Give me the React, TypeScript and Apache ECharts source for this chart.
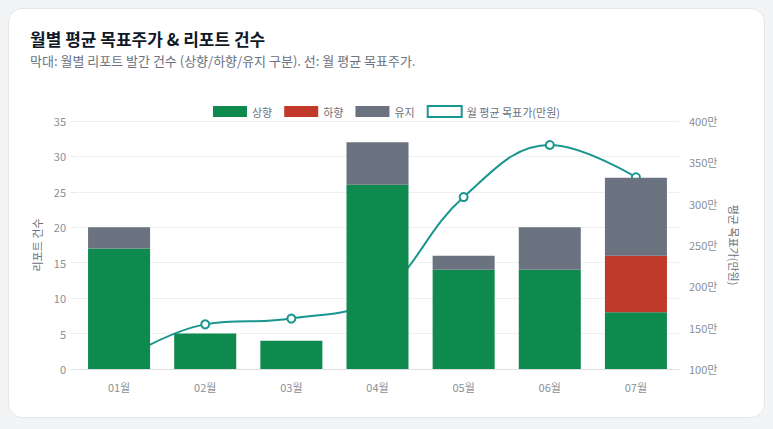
import React, { useEffect, useRef } from "react";
import * as echarts from "echarts";

const months = ["01월", "02월", "03월", "04월", "05월", "06월", "07월"];
const upCounts = [17, 5, 4, 26, 14, 14, 8];
const downCounts = [0, 0, 0, 0, 0, 0, 8];
const holdCounts = [3, 0, 0, 6, 2, 6, 11];
const avgTarget = [109, 154, 161, 187, 308, 371, 332];

const FONT = "'Noto Sans CJK KR', 'Noto Sans', sans-serif";
const LINE_COLOR = "#1a9690";

export default function App() {
  const ref = useRef<HTMLDivElement>(null);
  useEffect(() => {
    document.body.style.margin = "0";
    document.body.style.background = "#f3f4f6";
    const chart = echarts.init(ref.current!, null, { renderer: "svg" });
    const axisLabel = { color: "#8a8f98", fontSize: 11, fontFamily: FONT };
    chart.setOption({
      animation: false,
      textStyle: { fontFamily: FONT },
      title: {
        text: "월별 평균 목표주가 & 리포트 건수",
        subtext: "막대: 월별 리포트 발간 건수 (상향/하향/유지 구분). 선: 월 평균 목표주가.",
        left: 16,
        top: 16,
        itemGap: 7,
        textStyle: { fontSize: 17, fontWeight: "bold", color: "#111827", fontFamily: FONT },
        subtextStyle: { fontSize: 13, color: "#6b7280", fontFamily: FONT },
      },
      legend: {
        top: 91,
        left: "center",
        icon: "rect",
        itemWidth: 34,
        itemHeight: 11,
        itemGap: 12,
        textStyle: { fontSize: 11, color: "#6b7280", fontFamily: FONT },
        data: [
          "상향",
          "하향",
          "유지",
          {
            name: "월 평균 목표가(만원)",
            itemStyle: { color: "#ffffff", borderColor: LINE_COLOR, borderWidth: 2 },
          },
        ],
      },
      grid: { left: 67, right: 85, top: 112, bottom: 48 },
      xAxis: {
        type: "category",
        data: months,
        axisLine: { lineStyle: { color: "#e0e0e0" } },
        axisTick: { show: false },
        axisLabel: { ...axisLabel, margin: 12 },
      },
      yAxis: [
        {
          type: "value",
          min: 0,
          max: 35,
          interval: 5,
          name: "리포트 건수",
          nameLocation: "middle",
          nameGap: 34,
          nameTextStyle: { color: "#6b7280", fontSize: 11, fontFamily: FONT },
          axisLabel: { ...axisLabel, margin: 10 },
          axisLine: { show: false },
          axisTick: { show: true, length: 5, lineStyle: { color: "#e5e7eb" } },
          splitLine: { lineStyle: { color: "#f0f0f0" } },
        },
        {
          type: "value",
          min: 100,
          max: 400,
          interval: 50,
          name: "평균 목표가(만원)",
          nameLocation: "middle",
          nameGap: 50,
          nameRotate: -90,
          nameTextStyle: { color: "#6b7280", fontSize: 11, fontFamily: FONT },
          axisLabel: { ...axisLabel, margin: 10, formatter: (v: number) => v + "만" },
          axisLine: { show: false },
          axisTick: { show: false },
          splitLine: { show: false },
        },
      ],
      series: [
        {
          name: "월 평균 목표가(만원)",
          type: "line",
          yAxisIndex: 1,
          data: avgTarget,
          smooth: 0.4,
          z: 1,
          symbol: "emptyCircle",
          symbolSize: 8,
          lineStyle: { color: LINE_COLOR, width: 2 },
          itemStyle: { color: LINE_COLOR, borderWidth: 2 },
        },
        {
          name: "상향",
          type: "bar",
          stack: "cnt",
          data: upCounts,
          barWidth: "72%",
          z: 3,
          itemStyle: { color: "#0f8a4f" },
        },
        {
          name: "하향",
          type: "bar",
          stack: "cnt",
          data: downCounts,
          z: 3,
          itemStyle: { color: "#c0392b" },
        },
        {
          name: "유지",
          type: "bar",
          stack: "cnt",
          data: holdCounts,
          z: 3,
          itemStyle: { color: "#6b7280" },
        },
      ],
    });
    return () => chart.dispose();
  }, []);
  return (
    <div style={{ width: 773, height: 429, background: "#f3f4f6", padding: 8, boxSizing: "border-box" }}>
      <div
        style={{
          width: 757,
          height: 410,
          background: "#fff",
          borderRadius: 14,
          border: "1px solid #e5e7eb",
          boxSizing: "border-box",
          overflow: "hidden",
        }}
      >
        <div ref={ref} style={{ width: 755, height: 408 }} />
      </div>
    </div>
  );
}
